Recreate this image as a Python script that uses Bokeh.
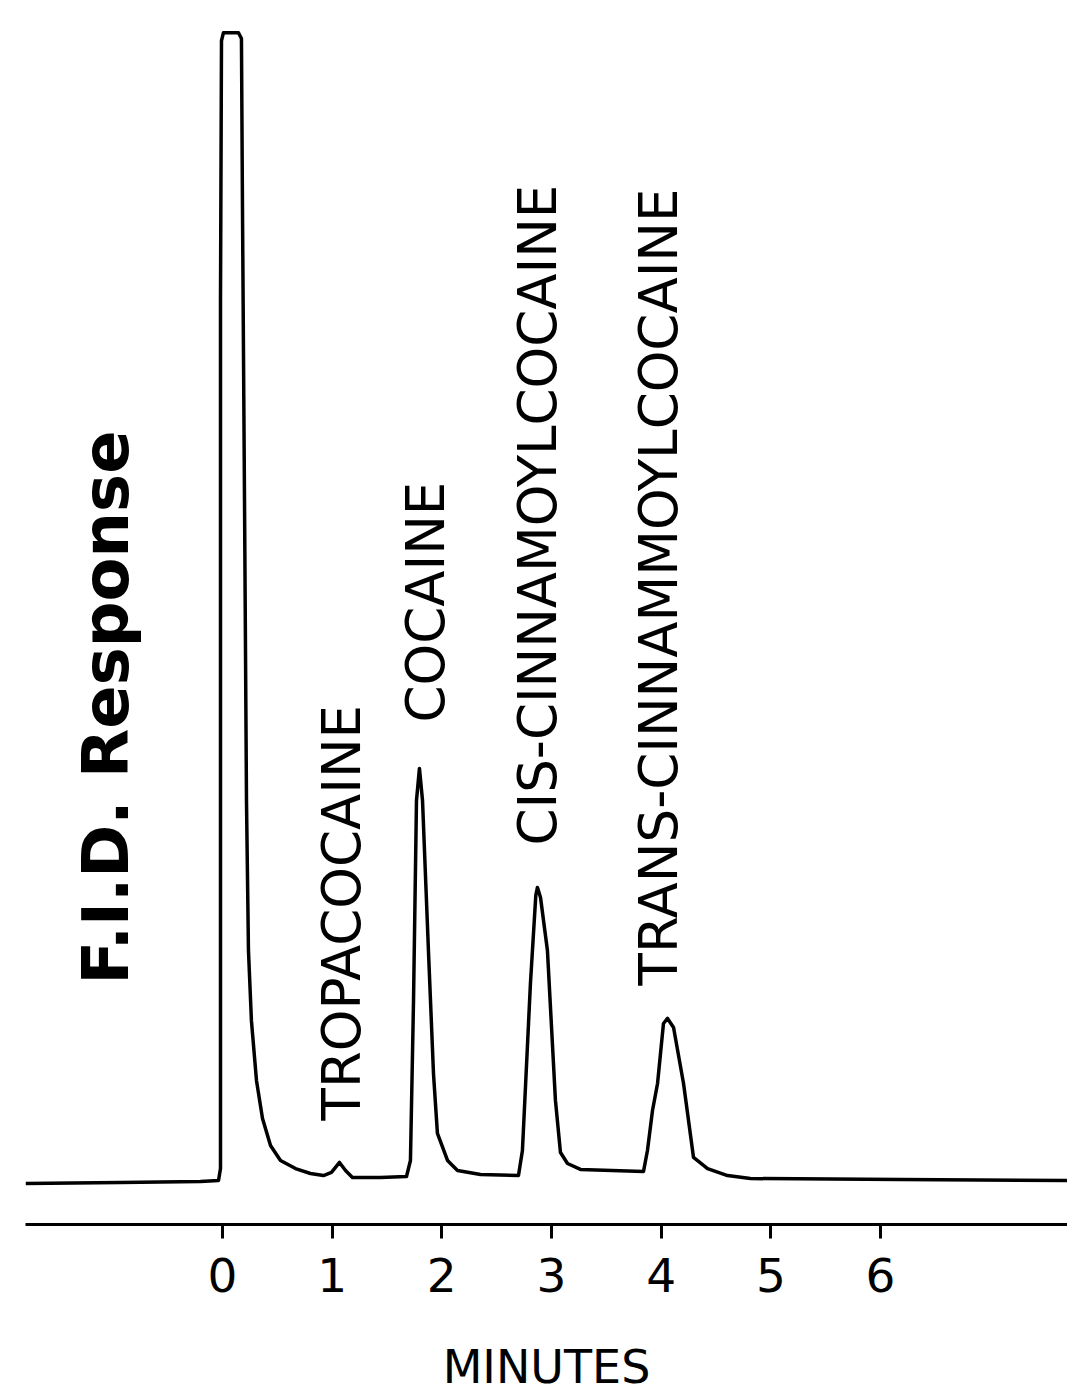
import numpy as np
from bokeh.plotting import figure
from bokeh.models import Range1d, FixedTicker, Label, ColumnDataSource
from bokeh.embed import file_html
from bokeh.resources import INLINE
from bokeh.core.properties import value

# Chromatogram trace (retention time in minutes, F.I.D. response in arbitrary units)
time_min = [-1.796, -0.930, -0.201, -0.036, -0.018, -0.018, -0.009, 0.009, 0.146, 0.173,
            0.182, 0.201, 0.219, 0.237, 0.264, 0.310, 0.365, 0.438, 0.529, 0.666,
            0.802, 0.921, 0.994, 1.067, 1.122, 1.185, 1.441, 1.678, 1.714, 1.742,
            1.769, 1.796, 1.824, 1.878, 1.924, 1.960, 2.052, 2.143, 2.353, 2.699,
            2.735, 2.808, 2.857, 2.872, 2.900, 2.963, 3.036, 3.082, 3.146, 3.264,
            3.839, 3.875, 3.921, 3.967, 4.021, 4.058, 4.113, 4.204, 4.295, 4.423,
            4.605, 4.814, 6.182, 7.705]
response = [-0.26, -0.17, -0.09, 0.00, 1.04, 76.5, 99.1, 99.8, 99.8, 99.3,
            85.2, 59.1, 33.0, 20.0, 13.9, 8.70, 5.39, 3.04, 1.74, 1.04,
            0.61, 0.43, 0.70, 1.57, 0.87, 0.26, 0.26, 0.35, 1.74, 15.65,
            33.04, 35.83, 33.04, 20.0, 9.30, 4.09, 1.74, 0.87, 0.52, 0.43,
            2.61, 17.13, 24.8, 25.48, 24.6, 20.0, 6.96, 2.43, 1.48, 0.96,
            0.78, 2.61, 6.09, 8.43, 13.65, 14.09, 13.30, 8.43, 2.0, 1.04,
            0.43, 0.17, 0.09, 0.00]

compounds = ["TROPACOCAINE", "COCAINE", "CIS-CINNAMOYLCOCAINE", "TRANS-CINNAMMOYLCOCAINE"]
tick_values = [0, 1, 2, 3, 4, 5, 6]
tick_labels = ["0", "1", "2", "3", "4", "5", "6"]

# label anchor positions (layout): centre line of each vertical label, lower end
label_time = [1.089, 1.851, 2.868, 3.980]
label_resp = [5.22, 39.83, 29.13, 16.96]

p = figure(width=1067, height=1399,
           x_range=Range1d(-1.796, 7.705), y_range=Range1d(-3.826, 102.6),
           min_border_left=25, min_border_right=0, min_border_top=0, min_border_bottom=175,
           y_axis_location=None, toolbar_location=None, output_backend="svg",
           outline_line_color=None, background_fill_color="white",
           border_fill_color="white")
p.grid.visible = False

p.line(time_min, response, line_width=3.5, line_color="black", line_join="round")

src = ColumnDataSource(dict(t=label_time, r=label_resp, name=compounds))
p.text(x="t", y="r", text="name", source=src, angle=np.pi / 2,
       text_font=value("DejaVu Sans"), text_font_size="53px",
       text_align="left", text_baseline="middle", text_color="black")

p.add_layout(Label(x=-1.058, y=41.13, text="F.I.D. Response", angle=np.pi / 2,
                   text_font="DejaVu Sans", text_font_style="bold", text_font_size="64px",
                   text_align="center", text_baseline="middle", text_color="black"))

ax = p.xaxis[0]
ax.ticker = FixedTicker(ticks=tick_values)
ax.major_label_overrides = {v: s for v, s in zip(tick_values, tick_labels)}
ax.axis_line_width = 3
ax.axis_line_color = "black"
ax.major_tick_line_width = 3
ax.major_tick_line_color = "black"
ax.major_tick_in = 0
ax.major_tick_out = 14
ax.minor_tick_line_color = None
ax.major_label_text_font = "DejaVu Sans"
ax.major_label_text_font_size = "47px"
ax.major_label_text_color = "black"
ax.major_label_standoff = 19
ax.axis_label = "MINUTES"
ax.axis_label_text_font = "DejaVu Sans"
ax.axis_label_text_font_style = "normal"
ax.axis_label_text_font_size = "46px"
ax.axis_label_text_color = "black"
ax.axis_label_standoff = 45

open("out.html", "w").write(file_html(p, INLINE))
